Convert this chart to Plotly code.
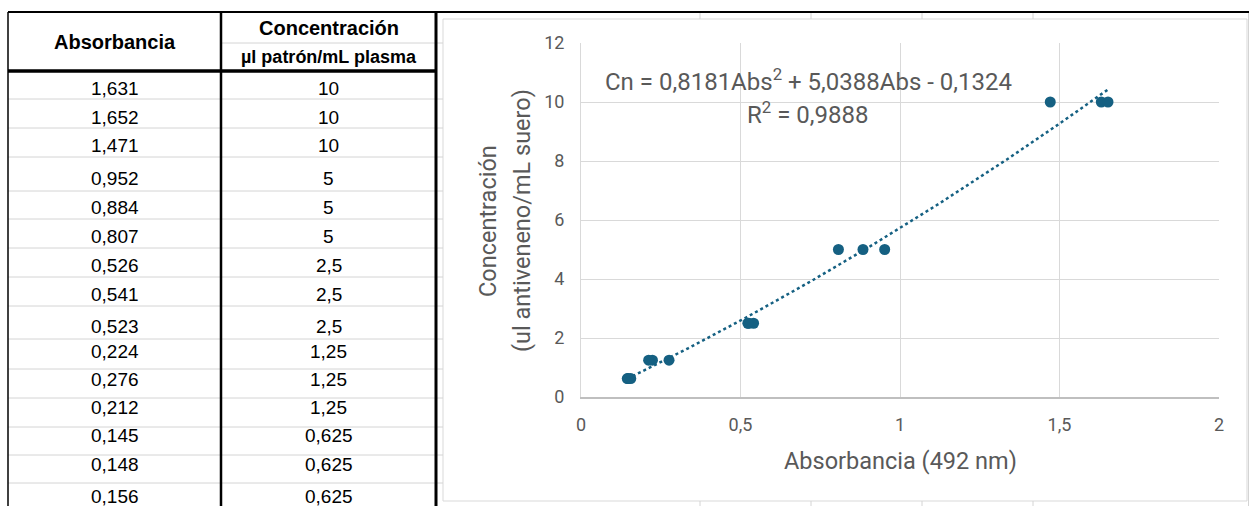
import numpy as np
import plotly.graph_objects as go

# ---------------- data ----------------
absorbancia = [1.631, 1.652, 1.471, 0.952, 0.884, 0.807, 0.526, 0.541, 0.523,
               0.224, 0.276, 0.212, 0.145, 0.148, 0.156]
concentracion = [10, 10, 10, 5, 5, 5, 2.5, 2.5, 2.5, 1.25, 1.25, 1.25,
                 0.625, 0.625, 0.625]
fit_coef = [0.8181, 5.0388, -0.1324]   # a*x^2 + b*x + c
r2 = 0.9888

col_header_1 = "Absorbancia"
col_header_2 = "Concentración"
col_header_2_sub = "µl patrón/mL plasma"
x_title = "Absorbancia (492 nm)"
y_title_1 = "Concentración"
y_title_2 = "(ul antiveneno/mL suero)"

# ---------------- geometry (pixels) ----------------
W, H = 1249, 506
def px(x):
    return x / W
def py(y):
    return 1 - y / H

PL, PR, PT, PB = 581, 1219, 43, 397     # plot area
TL, TC, TR = 8, 221, 436                # table columns
T_TOP, T_HEAD_SPLIT, T_HEAD_BOT = 12, 43, 71
row_lines = [99, 128, 157, 191, 219, 248, 277, 306, 339, 369, 398, 427, 455, 483]
row_text_y = [88, 117, 145.5, 178.5, 207.5, 236, 265, 294, 326.5, 351, 379, 407, 435, 464, 496]

MARK = "#156082"
GRAY_TXT = "#595959"
GRID = "#d9d9d9"

def fmt_num(v, dec=None):
    s = f"{v:.{dec}f}" if dec is not None else f"{v:g}"
    return s.replace(".", ",")

fig = go.Figure()

# scatter points
fig.add_trace(go.Scatter(
    x=absorbancia, y=concentracion, mode="markers",
    marker=dict(color=MARK, size=11, line=dict(width=0)),
    showlegend=False, hoverinfo="x+y"))

# polynomial trendline from the displayed coefficients
xt = np.linspace(min(absorbancia), max(absorbancia), 200)
yt = fit_coef[0] * xt**2 + fit_coef[1] * xt + fit_coef[2]
fig.add_trace(go.Scatter(
    x=xt, y=yt, mode="lines",
    line=dict(color=MARK, width=2.5, dash="dot"),
    showlegend=False, hoverinfo="skip"))

shapes = []
def line(x0, y0, x1, y1, color, width):
    shapes.append(dict(type="line", xref="paper", yref="paper",
                       x0=px(x0), y0=py(y0), x1=px(x1), y1=py(y1),
                       line=dict(color=color, width=width), layer="above"))

# spreadsheet light gridlines outside the chart
for y in row_lines + [T_HEAD_SPLIT]:
    line(TR, y, 443, y, "#d4d4d4", 1)
for x in [700, 811, 922, 1033]:
    line(x, T_TOP, x, 19, "#d4d4d4", 1)
    line(x, 501, x, H, "#d4d4d4", 1)
line(1248.5, T_TOP, 1248.5, H, "#d4d4d4", 1)

# table row lines
for y in row_lines:
    line(TL, y, TR, y, "#d4d4d4", 1)
line(TC, T_HEAD_SPLIT, TR, T_HEAD_SPLIT, "#d4d4d4", 1)

# table heavy borders
line(TL, T_TOP, W, T_TOP, "#000000", 2)
line(TL, T_TOP, TL, H, "#000000", 1.5)
line(TC, T_TOP, TC, H, "#000000", 2.5)
line(TR, T_TOP, TR, H, "#000000", 3)
line(TL, T_HEAD_BOT, TR, T_HEAD_BOT, "#000000", 3.5)

# chart area border
shapes.append(dict(type="rect", xref="paper", yref="paper",
                   x0=px(443), y0=py(19), x1=px(1247), y1=py(501),
                   line=dict(color=GRID, width=1), fillcolor="rgba(0,0,0,0)",
                   layer="below"))

annotations = []
def text(x, y, s, size, color="#000000", family="Liberation Sans, Arial, sans-serif",
         bold=False, angle=0):
    annotations.append(dict(
        xref="paper", yref="paper", x=px(x), y=py(y), text=(f"<b>{s}</b>" if bold else s),
        showarrow=False, xanchor="center", yanchor="middle", textangle=angle,
        font=dict(size=size, color=color, family=family)))

# table headers
text((TL + TC) / 2, 42, col_header_1, 20, bold=True)
text((TC + TR) / 2, 28, col_header_2, 20, bold=True)
text((TC + TR) / 2, 57, col_header_2_sub, 18, bold=True)

# table values
for a, c, y in zip(absorbancia, concentracion, row_text_y):
    text((TL + TC) / 2, y, fmt_num(a, 3), 19)
    text((TC + TR) / 2, y, fmt_num(c), 19)

# chart texts
CF = "Roboto, Open Sans, sans-serif"
eq = (f"Cn = {fmt_num(fit_coef[0])}Abs<sup>2</sup> + {fmt_num(fit_coef[1])}Abs - "
      f"{fmt_num(abs(fit_coef[2]))}")
text(808, 80, eq, 24, GRAY_TXT, CF)
text(807, 113, f"R<sup>2</sup> = {fmt_num(r2)}", 24, GRAY_TXT, CF)
text(900, 461, x_title, 23.5, GRAY_TXT, CF)
text(488, 221, y_title_1, 23.5, GRAY_TXT, CF, angle=-90)
text(522, 221, y_title_2, 23.5, GRAY_TXT, CF, angle=-90)

fig.update_layout(
    template="none",
    width=W, height=H, autosize=False,
    margin=dict(l=0, r=0, t=0, b=0, pad=0),
    paper_bgcolor="white", plot_bgcolor="white",
    separators=", ",
    shapes=shapes, annotations=annotations,
    xaxis=dict(domain=[px(PL), px(PR)], range=[0, 2], dtick=0.5, tick0=0,
               automargin=False,
               showgrid=True, gridcolor=GRID, gridwidth=1, zeroline=False,
               showline=True, linecolor="#bfbfbf", linewidth=1.5,
               ticks="", ticklabelstandoff=11,
               tickfont=dict(family=CF, size=18, color=GRAY_TXT), fixedrange=True),
    yaxis=dict(domain=[py(PB), py(PT)], range=[0, 12], dtick=2, tick0=0,
               automargin=False,
               showgrid=True, gridcolor=GRID, gridwidth=1, zeroline=False,
               showline=True, linecolor=GRID, linewidth=1,
               ticks="", ticklabelstandoff=12,
               tickfont=dict(family=CF, size=18, color=GRAY_TXT), fixedrange=True),
)

fig.write_html(
    "out.html",
    config={"displayModeBar": False},
    post_script="document.body.style.margin='0px';document.body.style.overflow='hidden';",
)
